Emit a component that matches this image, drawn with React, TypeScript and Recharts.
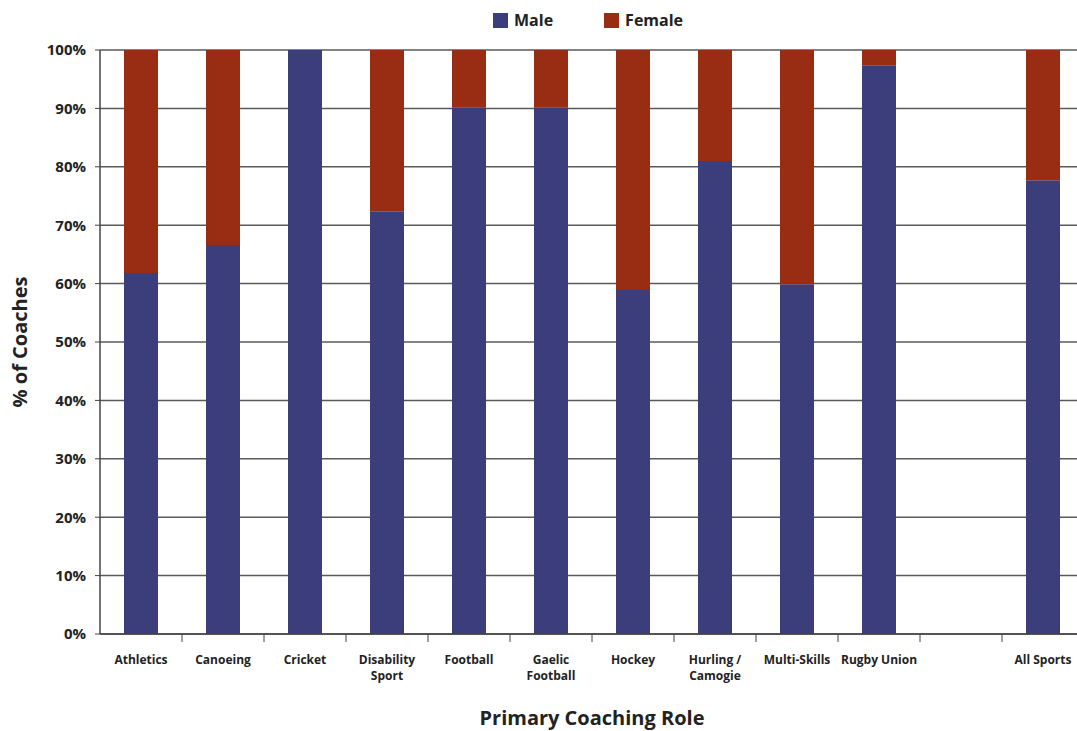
import React from 'react';
import { BarChart, Bar, XAxis, YAxis, CartesianGrid, Legend, Label } from 'recharts';

const categories = [
  'Athletics',
  'Canoeing',
  'Cricket',
  'Disability\nSport',
  'Football',
  'Gaelic\nFootball',
  'Hockey',
  'Hurling /\nCamogie',
  'Multi-Skills',
  'Rugby Union',
  '',
  'All Sports',
];
const maleValues = [61.8, 66.6, 100, 72.4, 90.1, 90.1, 58.9, 81.0, 59.9, 97.4, 0, 77.7];
const femaleValues = [38.2, 33.4, 0, 27.6, 9.9, 9.9, 41.1, 19.0, 40.1, 2.6, 0, 22.3];
const yTicks = [0, 10, 20, 30, 40, 50, 60, 70, 80, 90, 100];

const data = categories.map((name, i) => ({
  name: name === '' ? ' ' : name,
  male: name === '' ? null : maleValues[i],
  female: name === '' ? null : femaleValues[i],
}));

const MALE = '#3c3e7b';
const FEMALE = '#992d14';
const FONT = '"Open Sans", sans-serif';

const CHART_W = 1084;
const CHART_H = 731;
const PLOT_LEFT = 100;
const BAND = (CHART_W - PLOT_LEFT) / categories.length;

const CategoryTick = (props: any) => {
  const { x, y, payload, index } = props;
  const lines = String(payload.value).split('\n');
  return (
    <g>
      {index < categories.length - 1 && (
        <line x1={x + BAND / 2} x2={x + BAND / 2} y1={y} y2={y + 8} stroke="#444" strokeWidth={1} />
      )}
      <text x={x} y={y + 30} textAnchor="middle" fontFamily={FONT} fontWeight={700} fontSize={12} fill="#222">
        {lines.map((l, i) => (
          <tspan key={i} x={x} dy={i === 0 ? 0 : 16}>
            {l}
          </tspan>
        ))}
      </text>
    </g>
  );
};

const LegendContent = () => (
  <div style={{ display: 'flex', alignItems: 'center', fontFamily: FONT, fontWeight: 700, fontSize: 16, color: '#222' }}>
    <span style={{ width: 15, height: 15, background: MALE, display: 'inline-block', marginRight: 6 }} />
    <span style={{ marginRight: 51 }}>Male</span>
    <span style={{ width: 15, height: 15, background: FEMALE, display: 'inline-block', marginRight: 6 }} />
    <span>Female</span>
  </div>
);

export default function App() {
  return (
    <div style={{ position: 'fixed', left: 0, top: 0, width: 1077, height: 731, overflow: 'hidden', background: '#fff' }}>
      <BarChart
        width={CHART_W}
        height={CHART_H}
        data={data}
        margin={{ top: 50, right: 0, bottom: 0, left: 0 }}
        barCategoryGap={24}
      >
        <CartesianGrid vertical={false} stroke="#5a5a5a" strokeWidth={1.5} />
        <XAxis
          dataKey="name"
          height={97}
          interval={0}
          tickSize={0}
          tickMargin={0}
          tickLine={false}
          tick={<CategoryTick />}
          axisLine={{ stroke: '#444', strokeWidth: 1.5 }}
        >
          <Label
            content={({ viewBox }: any) => (
              <text
                x={viewBox.x + viewBox.width / 2}
                y={viewBox.y + 91}
                textAnchor="middle"
                fontFamily={FONT}
                fontWeight={700}
                fontSize={20}
                fill="#222"
              >
                Primary Coaching Role
              </text>
            )}
          />
        </XAxis>
        <YAxis
          width={PLOT_LEFT}
          domain={[0, 100]}
          ticks={yTicks}
          interval={0}
          tickFormatter={(v: number) => `${v}%`}
          tickSize={5}
          tickMargin={9}
          tickLine={{ stroke: '#444' }}
          axisLine={{ stroke: '#444', strokeWidth: 1.5 }}
          tick={{ fontFamily: FONT, fontWeight: 700, fontSize: 15, fill: '#222' }}
        >
          <Label
            content={({ viewBox }: any) => {
              const cx = 19;
              const cy = viewBox.y + viewBox.height / 2;
              return (
                <text
                  x={cx}
                  y={cy}
                  transform={`rotate(-90 ${cx} ${cy})`}
                  textAnchor="middle"
                  dominantBaseline="central"
                  fontFamily={FONT}
                  fontWeight={700}
                  fontSize={20}
                  fill="#222"
                >
                  % of Coaches
                </text>
              );
            }}
          />
        </YAxis>
        <Legend
          layout="horizontal"
          verticalAlign="middle"
          align="center"
          content={<LegendContent />}
          wrapperStyle={{ position: 'absolute', top: 9, left: 493, width: 'auto' }}
        />
        <Bar dataKey="male" name="Male" stackId="a" fill={MALE} isAnimationActive={false} />
        <Bar dataKey="female" name="Female" stackId="a" fill={FEMALE} isAnimationActive={false} />
      </BarChart>
    </div>
  );
}
